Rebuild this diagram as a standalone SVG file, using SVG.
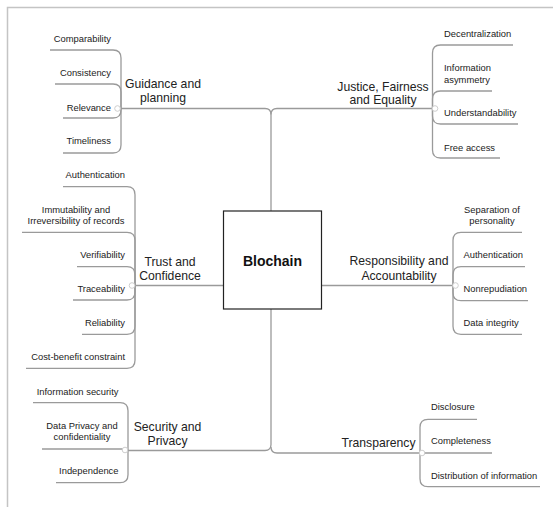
<svg xmlns="http://www.w3.org/2000/svg" width="553" height="507" viewBox="0 0 553 507">
<style>
.ln{fill:none;stroke:#9a9a9a;stroke-width:1.3}
.fr{fill:none;stroke:#c4c4c4;stroke-width:1.5}
.t{font-family:"Liberation Sans",Arial,sans-serif;font-size:9.4px;fill:#222}
.m{font-family:"Liberation Sans",Arial,sans-serif;font-size:12.2px;fill:#222;text-anchor:middle}
.r{text-anchor:end}
.c{text-anchor:middle}
.j{fill:#fff;stroke:#c8c8c8;stroke-width:0.9}
</style>
<rect width="553" height="507" fill="#fff"/>
<path class="fr" d="M7.5,507 V7.5 H553"/>
<g id="connectors">
<path class="ln" d="M121,108.5 H265 Q271,108.5 271,114.5 V211"/>
<path class="ln" d="M432.5,108.5 H277 Q271,108.5 271,114.5"/>
<path class="ln" d="M135,285.5 H223.5"/>
<path class="ln" d="M321.5,285.5 H453"/>
<path class="ln" d="M271,309 V444.5 Q271,450.5 265,450.5 H128"/>
<path class="ln" d="M271,447 Q271,453 277,453 H420"/>
<!-- Guidance -->
<path class="ln" d="M121,108.5 V58 Q121,50 113,50 H50"/>
<path class="ln" d="M121,108.5 V92 Q121,84 113,84 H55"/>
<path class="ln" d="M121,108.5 V110 Q121,118 113,118 H63"/>
<path class="ln" d="M121,108.5 V145 Q121,153 113,153 H63"/>
<!-- Justice -->
<path class="ln" d="M432.5,108.5 V53 Q432.5,45 440.5,45 H513"/>
<path class="ln" d="M432.5,108.5 V99 Q432.5,91 440.5,91 H492"/>
<path class="ln" d="M432.5,108.5 V116 Q432.5,124 440.5,124 H518"/>
<path class="ln" d="M432.5,108.5 V150 Q432.5,158 440.5,158 H500"/>
<!-- Trust -->
<path class="ln" d="M135,285.5 V194.7 Q135,186.7 127,186.7 H63"/>
<path class="ln" d="M135,285.5 V240.3 Q135,232.3 127,232.3 H22"/>
<path class="ln" d="M135,285.5 V274.7 Q135,266.7 127,266.7 H77"/>
<path class="ln" d="M135,285.5 V292 Q135,300 127,300 H73"/>
<path class="ln" d="M135,285.5 V326.3 Q135,334.3 127,334.3 H82"/>
<path class="ln" d="M135,285.5 V360.3 Q135,368.3 127,368.3 H26"/>
<!-- Responsibility -->
<path class="ln" d="M453,285.5 V240.3 Q453,232.3 461,232.3 H522"/>
<path class="ln" d="M453,285.5 V274.7 Q453,266.7 461,266.7 H525"/>
<path class="ln" d="M453,285.5 V292.7 Q453,300.7 461,300.7 H528"/>
<path class="ln" d="M453,285.5 V326.3 Q453,334.3 461,334.3 H522"/>
<!-- Security -->
<path class="ln" d="M128,450.5 V410.7 Q128,402.7 120,402.7 H33"/>
<path class="ln" d="M128,450.5 Q128,449 124,449 H42"/>
<path class="ln" d="M128,450.5 V474.7 Q128,482.7 120,482.7 H56"/>
<!-- Transparency -->
<path class="ln" d="M420,453 V427.3 Q420,419.3 428,419.3 H477"/>
<path class="ln" d="M420,453 H492"/>
<path class="ln" d="M420,453 V478.7 Q420,486.7 428,486.7 H540"/>
</g>
<g id="center">
<rect x="223.5" y="211" width="98" height="98" fill="#fff" stroke="#222" stroke-width="1.2"/>
<text x="272.5" y="266" font-family="Liberation Sans,Arial,sans-serif" font-size="14" font-weight="bold" fill="#111" text-anchor="middle">Blochain</text>
</g>
<g id="guidance">
<text class="m" x="163" y="88">Guidance and</text>
<text class="m" x="163" y="102">planning</text>
<circle class="j" cx="117.5" cy="108.5" r="2.8"/>
</g>
<g id="guidance-children">
<text class="t r" x="111" y="41.5">Comparability</text>
<text class="t r" x="111" y="75.5">Consistency</text>
<text class="t r" x="111" y="110.5">Relevance</text>
<text class="t r" x="111" y="143.5">Timeliness</text>
</g>
<g id="justice">
<text class="m" x="383" y="90.5">Justice, Fairness</text>
<text class="m" x="383" y="104">and Equality</text>
<circle class="j" cx="435" cy="108.5" r="2.8"/>
</g>
<g id="justice-children">
<text class="t" x="444" y="36.5">Decentralization</text>
<text class="t" x="444" y="70.5">Information</text>
<text class="t" x="444" y="82.5">asymmetry</text>
<text class="t" x="444" y="115.5">Understandability</text>
<text class="t" x="444" y="150.5">Free access</text>
</g>
<g id="trust">
<text class="m" x="170" y="266">Trust and</text>
<text class="m" x="170" y="280">Confidence</text>
<circle class="j" cx="132" cy="285.5" r="2.8"/>
</g>
<g id="trust-children">
<text class="t r" x="125" y="177.8">Authentication</text>
<text class="t c" x="76" y="212.8">Immutability and</text>
<text class="t c" x="76" y="224.2">Irreversibility of records</text>
<text class="t r" x="125" y="257.8">Verifiability</text>
<text class="t r" x="125" y="291.5">Traceability</text>
<text class="t r" x="125" y="326.2">Reliability</text>
<text class="t r" x="125" y="359.5">Cost-benefit constraint</text>
</g>
<g id="responsibility">
<text class="m" x="399" y="265">Responsibility and</text>
<text class="m" x="399" y="279.5">Accountability</text>
<circle class="j" cx="455.5" cy="285.5" r="2.8"/>
</g>
<g id="responsibility-children">
<text class="t c" x="492" y="212.8">Separation of</text>
<text class="t c" x="492" y="224.2">personality</text>
<text class="t" x="463.5" y="257.8">Authentication</text>
<text class="t" x="463.5" y="291.5">Nonrepudiation</text>
<text class="t" x="463.5" y="326.2">Data integrity</text>
</g>
<g id="security">
<text class="m" x="167.5" y="431">Security and</text>
<text class="m" x="167.5" y="445">Privacy</text>
<circle class="j" cx="125" cy="450" r="2.8"/>
</g>
<g id="security-children">
<text class="t r" x="118.5" y="394.5">Information security</text>
<text class="t c" x="82" y="428.5">Data Privacy and</text>
<text class="t c" x="82" y="440.2">confidentiality</text>
<text class="t r" x="118.5" y="473.5">Independence</text>
</g>
<g id="transparency">
<text class="m" x="378.5" y="446.5">Transparency</text>
<circle class="j" cx="422" cy="453" r="2.8"/>
</g>
<g id="transparency-children">
<text class="t" x="431" y="410.2">Disclosure</text>
<text class="t" x="431" y="444.2">Completeness</text>
<text class="t" x="431" y="478.5">Distribution of information</text>
</g>
</svg>
